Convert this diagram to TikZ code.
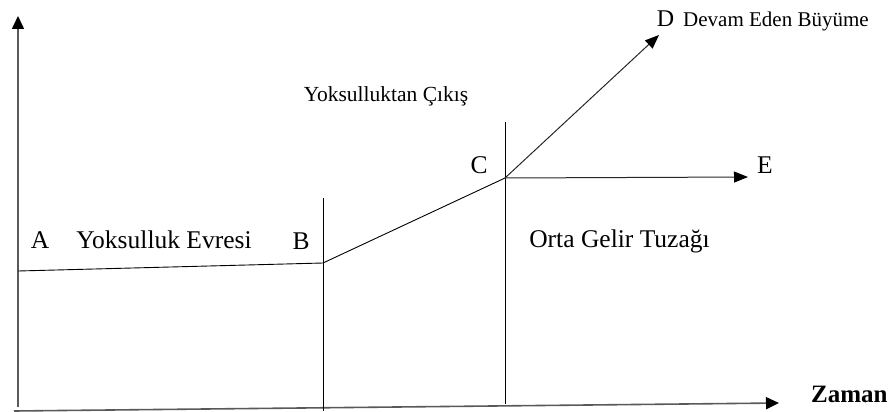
\documentclass[tikz,border=0pt]{standalone}
\usepackage{fontspec}
\setmainfont{LiberationSerif}[Extension=.ttf,UprightFont=*-Regular,BoldFont=*-Bold,ItalicFont=*-Italic,BoldItalicFont=*-BoldItalic]
\usetikzlibrary{arrows.meta}
\begin{document}
\begin{tikzpicture}[x=1pt,y=-1pt,
  axisline/.style={draw=black!65,line width=1.6pt,-{Triangle[length=13pt,width=12pt,color=black]}},
  thinline/.style={draw=black,line width=0.9pt},
  arrline/.style={draw=black!85,line width=1pt,-{Triangle[length=14pt,width=11pt,color=black]}},
  lbl/.style={inner sep=0pt,anchor=base,font=\fontsize{25.5}{30}\selectfont},
  smalllbl/.style={inner sep=0pt,anchor=base,font=\fontsize{21.5}{26}\selectfont}]
\useasboundingbox (0,0) rectangle (891,412);
% points
\coordinate (Y0) at (18,407);
\coordinate (Yt) at (18,16);
\coordinate (X0) at (14,411);
\coordinate (Xt) at (779,403);
\coordinate (A0) at (18,271);
\coordinate (B0) at (323,263);
\coordinate (C0) at (505,178);
\coordinate (Dt) at (659,35);
\coordinate (Et) at (748,177);
\coordinate (Bt) at (323,198);
\coordinate (Bb) at (323,411);
\coordinate (Ct) at (505,122);
\coordinate (Cb) at (505,404);
% axes
\draw[axisline] (Y0) -- (Yt);
\draw[axisline] (X0) -- (Xt);
% verticals
\draw[thinline] (Bt) -- (Bb);
\draw[thinline] (Ct) -- (Cb);
% path
\draw[thinline] (A0) -- (B0) -- (C0);
\draw[arrline] (C0) -- (Et);
\draw[arrline] (C0) -- (Dt);
% labels
\node[lbl] (la) at (40,248) {A};
\node[lbl] (lyev) at (164,248) {Yoksulluk Evresi};
\node[lbl] (lb) at (301,249) {B};
\node[smalllbl] (lcik) at (386,101) {Yoksulluktan Çıkış};
\node[lbl] (lc) at (479,173) {C};
\node[lbl] (le) at (765,173) {E};
\node[lbl] (lorta) at (619.5,247) {Orta Gelir Tuzağı};
\node[lbl,font=\fontsize{24}{28}\selectfont] (ld) at (665.5,27) {D};
\node[inner sep=0pt,anchor=base west,font=\fontsize{21}{24}\selectfont] (ldevam) at (683,27) {Devam Eden Büyüme};
\node[inner sep=0pt,anchor=base west,font=\bfseries\fontsize{25}{30}\selectfont] (lzaman) at (811,402) {Zaman};
\end{tikzpicture}
\end{document}
